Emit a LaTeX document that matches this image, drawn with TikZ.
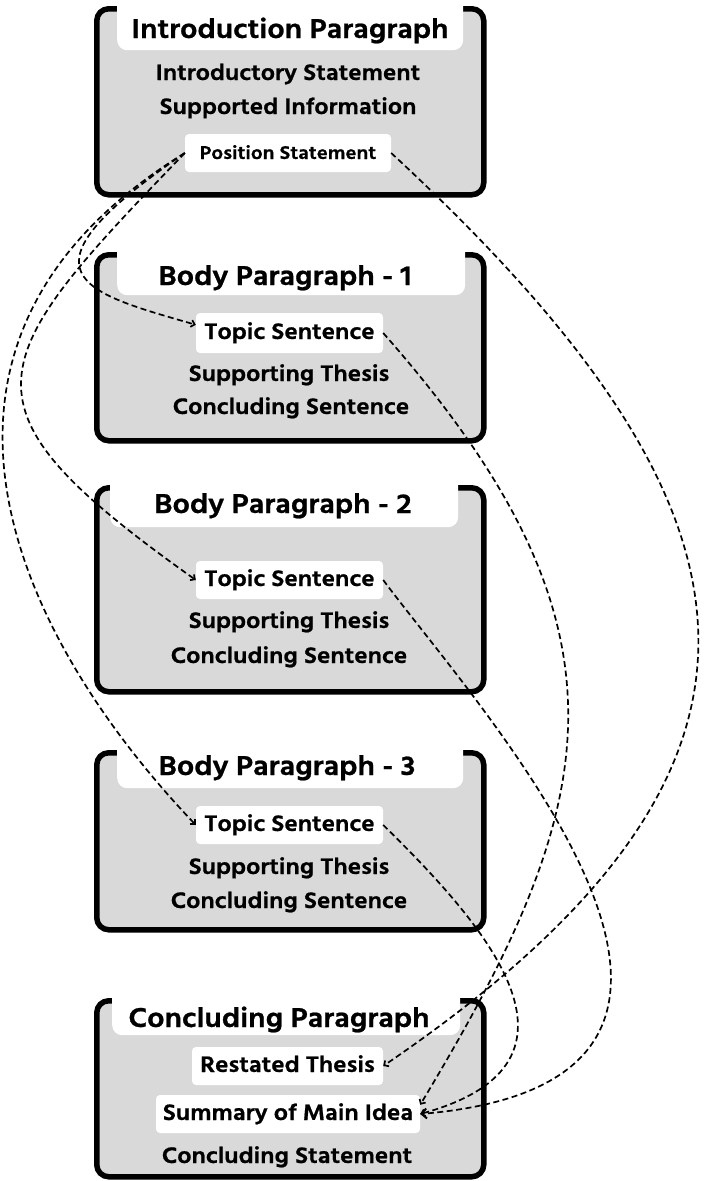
\documentclass[tikz,border=0pt]{standalone}
\usepackage{fontspec}
\setmainfont{Hind Siliguri}[FakeStretch=1.1, BoldFeatures={FakeBold=0.8}]
\usetikzlibrary{arrows.meta}
\definecolor{boxgray}{HTML}{D9D9D9}
\tikzset{
 parbox/.style={draw=black, line width=5.5pt, fill=boxgray, rounded corners=12pt, inner sep=0pt, anchor=north west},
 tabbox/.style={fill=white, rounded corners=10pt, inner sep=0pt, anchor=north west},
 titletext/.style={font=\fontsize{28}{30}\selectfont\bfseries, text height=19pt, text depth=5pt, inner sep=0pt},
 linetext/.style={font=\fontsize{23}{25}\selectfont\bfseries, text height=16pt, text depth=4pt, inner sep=0pt},
 labelbox/.style={fill=white, rounded corners=4pt, inner sep=0pt, font=\fontsize{23}{25}\selectfont\bfseries, text height=16pt, text depth=4pt},
 link/.style={dash pattern=on 6pt off 3.5pt, line width=1.7pt, -{Straight Barb[length=3.5pt,width=7pt]}},
 biglink/.style={link, -{Straight Barb[length=5pt,width=10pt,line width=2pt]}},
}
\begin{document}
\begin{tikzpicture}[x=1pt,y=-1pt]
\useasboundingbox (0,0) rectangle (704,1181);
% Introduction
\node[parbox, minimum width=387pt, minimum height=186pt] (intro) at (94,6) {};
\node[tabbox, minimum width=346pt, minimum height=58pt] (introtab) at (117,-8) {};
\node[titletext] (introtitle) at (290,31) {Introduction Paragraph};
\node[linetext] (introl1) at (288,74) {Introductory Statement};
\node[linetext] (introl2) at (288,108) {Supported Information};
\node[labelbox, minimum width=206pt, minimum height=38pt, font=\fontsize{19}{21}\selectfont\bfseries] (ps) at (288,153) {Position Statement};
% Body 1
\node[parbox, minimum width=387pt, minimum height=186pt] (b1) at (94,252) {};
\node[tabbox, minimum width=348pt, minimum height=55pt] (b1tab) at (117,240) {};
\node[titletext] (b1title) at (285,278) {Body Paragraph - 1};
\node[labelbox, minimum width=187pt, minimum height=40pt] (t1) at (289.5,333) {Topic Sentence};
\node[linetext] (b1l2) at (289,375) {Supporting Thesis};
\node[linetext] (b1l3) at (291,408) {Concluding Sentence};
% Body 2
\node[parbox, minimum width=387pt, minimum height=204pt] (b2) at (94,485) {};
\node[tabbox, minimum width=348pt, minimum height=55pt] (b2tab) at (110,472) {};
\node[titletext] (b2title) at (283,506) {Body Paragraph - 2};
\node[labelbox, minimum width=187pt, minimum height=38pt] (t2) at (289.5,580) {Topic Sentence};
\node[linetext] (b2l2) at (289,622) {Supporting Thesis};
\node[linetext] (b2l3) at (289,657) {Concluding Sentence};
% Body 3
\node[parbox, minimum width=387pt, minimum height=177pt] (b3) at (94,750) {};
\node[tabbox, minimum width=346pt, minimum height=50pt] (b3tab) at (117,738) {};
\node[titletext] (b3title) at (287,768) {Body Paragraph - 3};
\node[labelbox, minimum width=187pt, minimum height=38pt] (t3) at (289.5,825) {Topic Sentence};
\node[linetext] (b3l2) at (289,868) {Supporting Thesis};
\node[linetext] (b3l3) at (289,902) {Concluding Sentence};
% Concluding
\node[parbox, minimum width=387pt, minimum height=176pt] (c) at (94,998) {};
\node[tabbox, minimum width=348pt, minimum height=49pt] (ctab) at (112,986) {};
\node[titletext] (ctitle) at (279,1020) {Concluding Paragraph};
\node[labelbox, minimum width=191pt, minimum height=38pt] (rt) at (287.5,1066) {Restated Thesis};
\node[labelbox, minimum width=264pt, minimum height=38pt] (sm) at (288,1114) {Summary of Main Idea};
\node[linetext] (cl3) at (287,1157) {Concluding Statement};
% connectors
\draw[link] (ps.west) .. controls (8,274) and (82,292) .. (t1.175);
\draw[link] (ps.west) .. controls (-19,364) and (-51,405) .. (t2.west);
\draw[link] (ps.west) .. controls (-120,340) and (10,630) .. (t3.west);
\draw[link] (ps.east) .. controls (776,509) and (827,764) .. (rt.east);
\draw[link] (t1.east) .. controls (647,632) and (600,806) .. (sm.4);
\draw[biglink] (t2.east) .. controls (480,710) and (820,1080) .. (sm.east);
\draw[link] (t3.east) .. controls (480,920) and (610,1062) .. (sm.east);
\end{tikzpicture}
\end{document}
